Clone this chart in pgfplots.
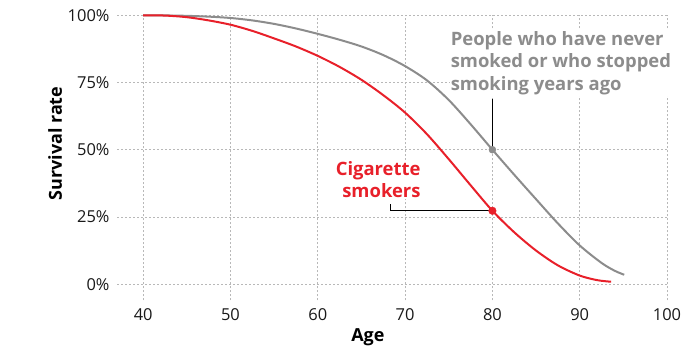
\documentclass[border=0pt]{standalone}
\usepackage{pgfplots}
\pgfplotsset{compat=1.18}
\usepackage{fontspec}
\setmainfont{Open Sans}
\definecolor{cred}{HTML}{E8202A}
\definecolor{cgray}{HTML}{8C8C8C}
\definecolor{cgrid}{HTML}{B8B8B8}
\begin{document}
\begin{tikzpicture}
\begin{axis}[name=ax, scale only axis, width=550bp, height=285bp,
 xmin=37, xmax=100, ymin=-6, ymax=100,
 xtick={40,50,...,100}, ytick={0,25,50,75,100},
 yticklabel={\pgfmathprintnumber{\tick}\%},
 /pgf/number format/assume math mode=true,
 axis line style={draw=none}, major tick length=0pt,
 grid=major, major grid style={cgrid, dash pattern=on 2bp off 2bp, line width=0.7bp},
 tick label style={font=\fontsize{16.5}{18}\selectfont, text=black!90},
 xticklabel style={yshift=-5bp},
 yticklabel style={xshift=-4bp},
 xlabel={Age}, ylabel={Survival rate},
 label style={font=\fontsize{18}{20}\selectfont\bfseries},
 xlabel style={at={(rel axis cs:0.456,-0.144)}, anchor=base},
 ylabel style={at={(rel axis cs:-0.1,0.55)}, anchor=base},
 clip=false]
\addplot[cgray, line width=2bp, smooth, tension=0.5] coordinates {
(40,100) (42.5,99.95) (45,99.8) (47.5,99.5) (50,99) (52.5,98.1) (55,96.8) (57.5,95.1) (60,93.1)
(62.5,90.9) (65,88.4) (67.5,85.2) (70,81.1) (72.5,75.8) (75,68.5) (77.5,59.5) (80,50)
(82.5,40.7) (85,31.6) (87.5,22.6) (90,14.4) (92.5,7.9) (94,5) (95.1,3.5)};
\addplot[cred, line width=2bp, smooth, tension=0.5] coordinates {
(40,100) (42.5,99.9) (45,99.3) (47.5,98.1) (50,96.5) (52.5,94.2) (55,91.4) (57.5,88.4)
(60,84.9) (62.5,80.8) (65,76) (67.5,70.3) (70,63.8) (72.5,55.8) (75,46.5) (77.5,36.8)
(80,27.3) (82.5,19.3) (85,12.5) (87.5,7) (90,3.2) (92,1.5) (93.6,0.9)};
\draw[black, line width=1bp] (axis cs:80,69) -- (axis cs:80,50);
\draw[black, line width=1bp] (axis cs:68.3,29.7) -- (axis cs:68.3,27.3) -- (axis cs:80,27.3);
\addplot[only marks, mark=*, mark size=3.5bp, cgray] coordinates {(80,50)};
\addplot[only marks, mark=*, mark size=3.8bp, cred] coordinates {(80,27.3)};
\node[anchor=north west, align=left, font=\fontsize{18.5}{22.5}\selectfont\bfseries, text=cgray, fill=white, inner sep=1bp] at (axis cs:75.1,94.5) {People who have never\\smoked or who stopped\\smoking years ago};
\node[anchor=north east, align=right, font=\fontsize{18.5}{22.5}\selectfont\bfseries, text=cred, fill=white, inner sep=1bp] at (axis cs:71.9,46.2) {Cigarette\\smokers};
\end{axis}
\path ([xshift=-117bp,yshift=-53bp]ax.south west) rectangle ([xshift=19bp,yshift=15.3bp]ax.north east);
\end{tikzpicture}
\end{document}
